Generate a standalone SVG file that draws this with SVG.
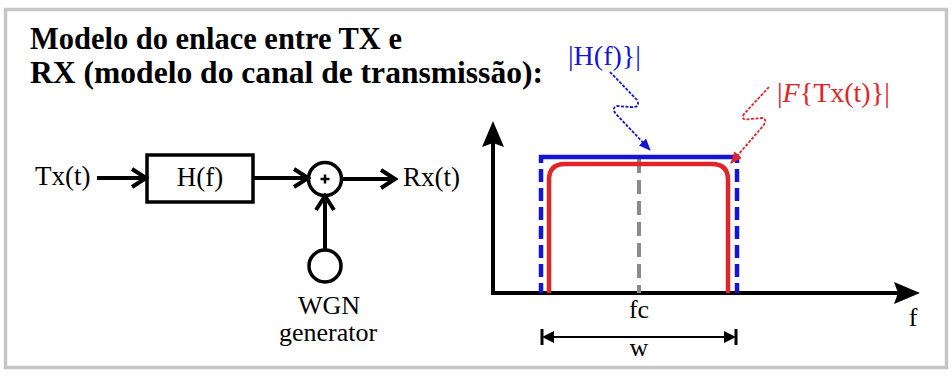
<svg xmlns="http://www.w3.org/2000/svg" width="952" height="376" viewBox="0 0 952 376">
<defs>
<style>
.t{font-family:'Liberation Serif','Times New Roman',serif;fill:#000}
.lb{font-size:27px}
.sm{font-size:26px}
.wire{stroke:#000;stroke-width:4;fill:none}
.blk{stroke:#000;stroke-width:3.5;fill:#fff}
</style>
<marker id="chev" markerUnits="userSpaceOnUse" viewBox="0 0 20 24" markerWidth="20" markerHeight="24" refX="17" refY="12" orient="auto">
<path d="M3,3 L17,12 L3,21" fill="none" stroke="#000" stroke-width="4" stroke-linejoin="miter"/>
</marker>
<marker id="bluehead" markerUnits="userSpaceOnUse" viewBox="0 0 12 10" markerWidth="12" markerHeight="10" refX="11" refY="5" orient="auto">
<path d="M0,0 L12,5 L0,10 Z" fill="#1414d8"/>
</marker>
<marker id="redhead" markerUnits="userSpaceOnUse" viewBox="0 0 12 10" markerWidth="12" markerHeight="10" refX="11" refY="5" orient="auto">
<path d="M0,0 L12,5 L0,10 Z" fill="#e0242a"/>
</marker>
</defs>
<rect x="5.5" y="9.5" width="941" height="358" fill="#fff" stroke="#c6c6c6" stroke-width="3.5"/>

<g id="title" font-family="Liberation Serif, Times New Roman, serif" font-weight="700" font-size="32">
<text x="30" y="49" textLength="372" lengthAdjust="spacingAndGlyphs">Modelo do enlace entre TX e</text>
<text x="30" y="83" textLength="513" lengthAdjust="spacingAndGlyphs">RX (modelo do canal de transmissão):</text>
</g>

<g id="tx"><text class="t lb" x="35" y="185">Tx(t)</text></g>
<g id="hf">
<rect class="blk" x="147" y="155" width="106" height="47"/>
<text class="t lb" x="200" y="186" text-anchor="middle">H(f)</text>
</g>
<g id="sum">
<circle class="blk" cx="325" cy="179" r="16.5"/>
<path d="M320.5,179 H329.5 M325,174.5 V183.5" stroke="#000" stroke-width="2.5"/>
</g>
<g id="rx"><text class="t lb" x="403" y="186">Rx(t)</text></g>
<g id="wgn">
<circle class="blk" cx="325" cy="266" r="16"/>
<text class="t sm" x="329" y="314" text-anchor="middle">WGN</text>
<text class="t sm" x="328" y="341" text-anchor="middle">generator</text>
</g>

<g id="connectors">
<line class="wire" x1="97" y1="178" x2="146" y2="178" marker-end="url(#chev)"/>
<line class="wire" x1="253" y1="178" x2="308" y2="178" marker-end="url(#chev)"/>
<line class="wire" x1="341.5" y1="179" x2="395" y2="179" marker-end="url(#chev)"/>
<line class="wire" x1="325" y1="250" x2="325" y2="196" marker-end="url(#chev)"/>
</g>

<g id="chart">
<line x1="493" y1="140" x2="493" y2="295" stroke="#000" stroke-width="4"/>
<path d="M493,121 L504,147 L493,143 L482,147 Z" fill="#000"/>
<line x1="491" y1="293" x2="900" y2="293" stroke="#000" stroke-width="4"/>
<path d="M920,293 L894,282 L898,293 L894,304 Z" fill="#000"/>
<line x1="639" y1="159" x2="639" y2="293" stroke="#8a8a8a" stroke-width="4" stroke-dasharray="14 7"/>
<path d="M549,293 V180 Q549,164 565,164 H712 Q728,164 728,180 V293" fill="none" stroke="#e0242a" stroke-width="4.5"/>
<line x1="539" y1="157" x2="739" y2="157" stroke="#1414d8" stroke-width="4.5"/>
<line x1="541" y1="155" x2="541" y2="293" stroke="#1414d8" stroke-width="4.5" stroke-dasharray="8 6 13 6 13 6 13 6 13 6 13 6 13 6 13 6 13 6"/>
<line x1="737" y1="155" x2="737" y2="293" stroke="#1414d8" stroke-width="4.5" stroke-dasharray="8 6 13 6 13 6 13 6 13 6 13 6 13 6 13 6 13 6"/>
<text class="t sm" x="639" y="318" text-anchor="middle">fc</text>
<text class="t sm" x="913" y="326" text-anchor="middle">f</text>
<line x1="544" y1="337" x2="734" y2="337" stroke="#000" stroke-width="2"/>
<path d="M542,337 L554,331 L554,343 Z M736,337 L724,331 L724,343 Z" fill="#000"/>
<path d="M542,329 V345 M736,329 V345" stroke="#000" stroke-width="3"/>
<text class="t sm" x="639" y="356" text-anchor="middle">w</text>
</g>

<g id="labels">
<text class="t" x="568" y="65" font-size="28" style="fill:#1414d8">|H(f)}|</text>
<path d="M610,72 L637,100 Q641,108 630,107 L617,106 Q611,108 616,114 L650,150" fill="none" stroke="#1414d8" stroke-width="1.8" stroke-dasharray="3 1.5" marker-end="url(#bluehead)"/>
<text class="t" x="777" y="102" font-size="28" style="fill:#e0242a">|<tspan font-style="italic">F</tspan>{Tx(t)}|</text>
<path d="M769,87 L744,114 Q740,121 750,119 L762,118 Q768,119 763,126 L731,163" fill="none" stroke="#e0242a" stroke-width="1.8" stroke-dasharray="3 1.5" marker-end="url(#redhead)"/>
</g>
</svg>
